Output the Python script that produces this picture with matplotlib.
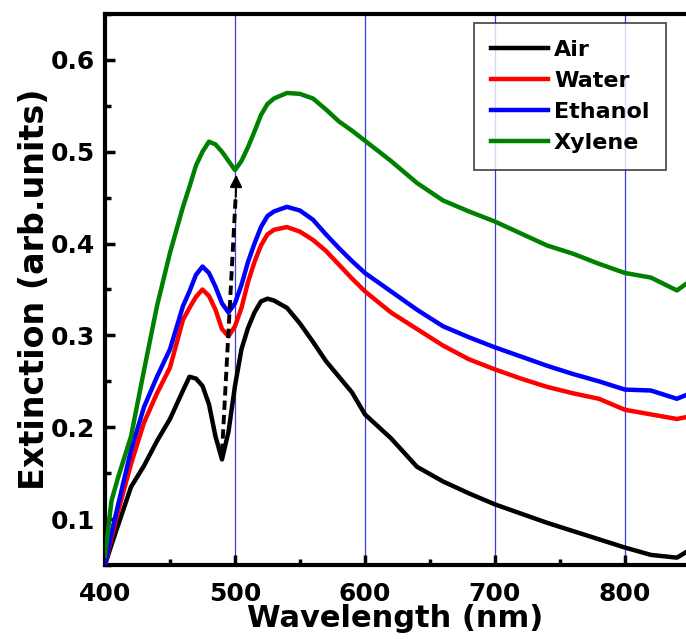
import matplotlib
matplotlib.use("Agg")
import matplotlib.pyplot as plt
from matplotlib.ticker import MultipleLocator

plt.rcParams['font.family'] = ['DejaVu Sans']
plt.rcParams['font.weight'] = 'bold'

wavelength = [400, 405, 410, 420, 430, 440, 450, 460, 465, 470, 475, 480, 485, 490, 495,
              500, 505, 510, 515, 520, 525, 530, 540, 550, 560, 570, 580, 590, 600, 620,
              640, 660, 680, 700, 720, 740, 760, 780, 800, 820, 840, 847]

air = [0.050, 0.072, 0.093, 0.135, 0.158, 0.185, 0.209, 0.240, 0.255, 0.253, 0.245, 0.225, 0.190, 0.165, 0.195,
       0.245, 0.285, 0.308, 0.325, 0.337, 0.340, 0.338, 0.330, 0.313, 0.293, 0.272, 0.255, 0.238, 0.214, 0.188,
       0.157, 0.141, 0.128, 0.116, 0.106, 0.096, 0.087, 0.078, 0.069, 0.061, 0.058, 0.064]

water = [0.050, 0.080, 0.108, 0.160, 0.205, 0.237, 0.265, 0.317, 0.330, 0.342, 0.350, 0.343, 0.328, 0.307, 0.299,
         0.310, 0.330, 0.358, 0.380, 0.398, 0.410, 0.415, 0.418, 0.413, 0.404, 0.392, 0.377, 0.362, 0.348, 0.325,
         0.307, 0.289, 0.274, 0.263, 0.253, 0.244, 0.237, 0.231, 0.219, 0.214, 0.209, 0.211]

ethanol = [0.050, 0.085, 0.115, 0.175, 0.222, 0.255, 0.285, 0.332, 0.348, 0.366, 0.375, 0.368, 0.353, 0.335, 0.325,
           0.335, 0.355, 0.380, 0.400, 0.418, 0.430, 0.435, 0.440, 0.436, 0.426, 0.410, 0.395, 0.381, 0.368, 0.348,
           0.328, 0.310, 0.298, 0.287, 0.277, 0.267, 0.258, 0.250, 0.241, 0.240, 0.231, 0.235]

xylene = [0.060, 0.120, 0.145, 0.190, 0.262, 0.332, 0.390, 0.440, 0.462, 0.485, 0.500, 0.511, 0.508, 0.500, 0.490,
          0.480, 0.490, 0.505, 0.522, 0.540, 0.552, 0.558, 0.564, 0.563, 0.558, 0.546, 0.533, 0.523, 0.512, 0.490,
          0.466, 0.447, 0.435, 0.424, 0.411, 0.398, 0.389, 0.378, 0.368, 0.363, 0.349, 0.356]

labels = ["Air", "Water", "Ethanol", "Xylene"]
colors = ["black", "#ff0000", "#0000ff", "#008000"]
series = [air, water, ethanol, xylene]
vlines = [500, 600, 700, 800]
arrow_start = (490, 0.172)
arrow_end = (501, 0.478)

fig = plt.figure(figsize=(6.86, 6.39), dpi=100)
ax = fig.add_axes([105/686, 1-565/639, 1-105/686, (565-14)/639])

for x in vlines:
    ax.axvline(x, color="#3a3ad8", lw=0.9, zorder=1)

for y, lab, c in zip(series, labels, colors):
    ax.plot(wavelength, y, color=c, lw=3.2, label=lab, zorder=3)

# dashed arrow
ax.plot([arrow_start[0], arrow_end[0] - 0.4], [arrow_start[1], arrow_end[1] - 0.025],
        color="black", lw=2.8, ls=(0, (2.4, 1.3)), zorder=4)
ax.annotate("", xy=arrow_end, xytext=(arrow_end[0] - 0.4, arrow_end[1] - 0.03),
            arrowprops=dict(arrowstyle="-|>", color="black", lw=1.5, mutation_scale=18),
            zorder=5)

ax.set_xlim(400, 847)
ax.set_ylim(0.05, 0.65)
ax.xaxis.set_major_locator(MultipleLocator(100))
ax.xaxis.set_minor_locator(MultipleLocator(50))
ax.yaxis.set_major_locator(MultipleLocator(0.1))
ax.yaxis.set_minor_locator(MultipleLocator(0.05))
ax.tick_params(which="both", direction="in", top=False, right=False, width=2.5)
ax.tick_params(which="major", length=7, labelsize=18)
ax.tick_params(axis="x", which="major", pad=12)
ax.tick_params(axis="y", which="major", pad=7)
ax.tick_params(which="minor", length=4)
ax.set_yticks([0.1, 0.2, 0.3, 0.4, 0.5, 0.6])
ax.set_yticklabels(["0.1", "0.2", "0.3", "0.4", "0.5", "0.6"])
for lbl in ax.get_xticklabels() + ax.get_yticklabels():
    lbl.set_fontweight("bold")

for s in ["left", "bottom", "top"]:
    ax.spines[s].set_linewidth(3)
ax.spines["right"].set_visible(False)

ax.set_xlabel("Wavelength (nm)", fontsize=22, fontweight="bold", labelpad=-1)
ax.set_ylabel("Extinction (arb.units)", fontsize=24, fontweight="bold", labelpad=0)

leg = ax.legend(loc="upper left", bbox_to_anchor=(474/686, 1-23/639), bbox_transform=fig.transFigure,
                fontsize=16, frameon=True, fancybox=False, handlelength=2.6, handletextpad=0.25,
                borderpad=0.75, labelspacing=0.5, borderaxespad=0)
leg.get_frame().set_edgecolor("#222222")
leg.get_frame().set_linewidth(1.3)
for t in leg.get_texts():
    t.set_fontweight("bold")

fig.savefig("out.png", dpi=100)
